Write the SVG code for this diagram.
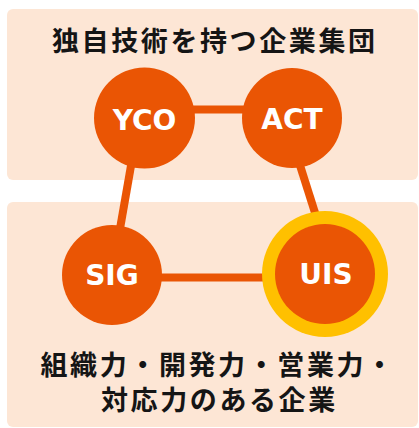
<svg xmlns="http://www.w3.org/2000/svg" width="419" height="428" viewBox="0 0 419 428">
<style>
.panel{fill:#FDE6D5}
.node{fill:#EA5504}
.ring{fill:#FFC000}
.lbl{font-family:"DejaVu Sans","Liberation Sans",sans-serif;font-weight:bold;font-size:28px;fill:#fff;text-anchor:middle}
.jp{font-family:"Noto Sans CJK JP","Noto Sans CJK SC",sans-serif;font-weight:bold;font-size:27px;fill:#151515;letter-spacing:2.6px}
.edge{stroke:#EA5504;stroke-width:8;fill:none}
</style>
<rect class="panel" x="7" y="9" width="411" height="171" rx="6"/>
<rect class="panel" x="7" y="202" width="411" height="225" rx="6"/>
<text class="jp" x="52" y="51">独自技術を持つ企業集団</text>
<text class="jp" x="40.5" y="375">組織力・開発力・営業力・</text>
<text class="jp" x="101" y="410">対応力のある企業</text>
<g id="connectors">
<line class="edge" x1="144" y1="109.5" x2="292" y2="109.5"/>
<line class="edge" x1="112" y1="277.5" x2="325" y2="277.5"/>
<line class="edge" x1="132" y1="160" x2="118.9" y2="235"/>
<line class="edge" x1="298.3" y1="160" x2="318.9" y2="225"/>
</g>
<g id="YCO"><circle class="node" cx="144.5" cy="118" r="50.5"/><text class="lbl" x="144.5" y="130">YCO</text></g>
<g id="ACT"><circle class="node" cx="292" cy="118" r="50"/><text class="lbl" x="292" y="128.5">ACT</text></g>
<g id="SIG"><circle class="node" cx="112" cy="275" r="50"/><text class="lbl" x="112" y="285">SIG</text></g>
<g id="UIS"><circle class="ring" cx="325" cy="274" r="63"/><circle class="node" cx="325" cy="274" r="50"/><text class="lbl" x="326" y="284">UIS</text></g>
</svg>
